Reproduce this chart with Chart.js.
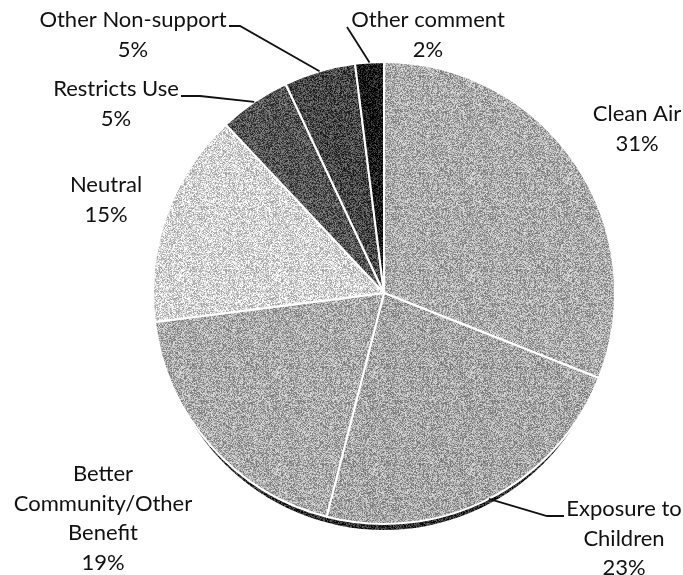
<!DOCTYPE html>
<html>
<head>
<meta charset="utf-8">
<script src="https://cdn.jsdelivr.net/npm/chart.js@4/dist/chart.umd.min.js"></script>
<style>
  html, body { margin: 0; padding: 0; background: #ffffff; }
  #wrap { width: 683px; height: 575px; position: relative; }
</style>
</head>
<body>
<div id="wrap"><canvas id="pie"></canvas></div>
<script>
// Survey responses, share of comments (%)
const categories = [
  "Clean Air",
  "Exposure to Children",
  "Better Community/Other Benefit",
  "Neutral",
  "Restricts Use",
  "Other Non-support",
  "Other comment"
];
const shares = [31, 23, 19, 15, 5, 5, 2];

// How each label is broken into lines
const labelLines = [
  ["Clean Air"],
  ["Exposure to", "Children"],
  ["Better", "Community/Other", "Benefit"],
  ["Neutral"],
  ["Restricts Use"],
  ["Other Non-support"],
  ["Other comment"]
];

// Slice shades
const shades = ["#ababab", "#a6a6a6", "#aaaaaa", "#d4d4d4", "#545454", "#464646", "#141414"];

// Label placement: centre of first text line, and optional leader-line bend points
const labelPos = [
  [637, 114],
  [624, 509],
  [103, 474],
  [106, 185],
  [116, 89],
  [133, 20],
  [428, 20]
];
const leaderBends = [
  null,
  [[564, 516], [547, 516]],
  null,
  null,
  [[181, 96], [200, 96]],
  [[229, 26], [240, 26]],
  [[347, 27]]
];

const FONT = '22px Lato';
const LINE_H = 29.5;

// Slight stipple, like a printed halftone
function grainFill(hex) {
  const base = parseInt(hex.slice(1, 3), 16);
  const size = 97;
  const c = document.createElement('canvas');
  c.width = size; c.height = size;
  const g = c.getContext('2d');
  const img = g.createImageData(size, size);
  for (let y = 0; y < size; y++) {
    for (let x = 0; x < size; x++) {
      const h = Math.sin(x * 12.9898 + y * 78.233) * 43758.5453;
      const f = h - Math.floor(h);
      let v = base + (f - 0.5) * 110;
      v = Math.max(0, Math.min(255, v));
      const i = (y * size + x) * 4;
      img.data[i] = img.data[i + 1] = img.data[i + 2] = v;
      img.data[i + 3] = 255;
    }
  }
  g.putImageData(img, 0, 0);
  return g.createPattern(c, 'repeat');
}

// Dark rim under the lower edge of the pie (thickest at the bottom)
const rimShadow = {
  id: 'rimShadow',
  beforeDatasetsDraw(chart) {
    const arc = chart.getDatasetMeta(0).data[0];
    if (!arc) return;
    const ctx = chart.ctx;
    ctx.save();
    ctx.beginPath();
    ctx.arc(arc.x, arc.y + 12, arc.outerRadius - 6, 0, Math.PI * 2);
    ctx.fillStyle = grainFill('#2c2c2c');
    ctx.fill();
    ctx.restore();
  }
};

// Category name and percentage next to each slice, with leader lines
const sliceLabels = {
  id: 'sliceLabels',
  afterDatasetsDraw(chart) {
    const ctx = chart.ctx;
    const arcs = chart.getDatasetMeta(0).data;
    ctx.save();
    ctx.font = FONT;
    ctx.fillStyle = '#111111';
    ctx.textAlign = 'center';
    ctx.textBaseline = 'middle';
    arcs.forEach((arc, i) => {
      const bends = leaderBends[i];
      if (bends) {
        const mid = (arc.startAngle + arc.endAngle) / 2;
        const ex = arc.x + Math.cos(mid) * arc.outerRadius;
        const ey = arc.y + Math.sin(mid) * arc.outerRadius;
        ctx.beginPath();
        ctx.moveTo(bends[0][0], bends[0][1]);
        for (let k = 1; k < bends.length; k++) ctx.lineTo(bends[k][0], bends[k][1]);
        ctx.lineTo(ex, ey);
        ctx.strokeStyle = '#111111';
        ctx.lineWidth = 1.8;
        ctx.stroke();
      }
      const [lx, ly] = labelPos[i];
      const lines = labelLines[i].concat([shares[i] + '%']);
      lines.forEach((t, k) => ctx.fillText(t, lx, ly + k * LINE_H));
    });
    ctx.restore();
  }
};

new Chart(document.getElementById('pie'), {
  type: 'pie',
  data: {
    labels: categories,
    datasets: [{
      data: shares,
      backgroundColor: shades.map(grainFill),
      borderColor: '#ffffff',
      borderWidth: 2
    }]
  },
  options: {
    responsive: true,
    maintainAspectRatio: false,
    animation: false,
    layout: { padding: { left: 152, right: 67, top: 61, bottom: 50 } },
    plugins: {
      legend: { display: false },
      tooltip: { enabled: false }
    }
  },
  plugins: [rimShadow, sliceLabels]
});
</script>
</body>
</html>
